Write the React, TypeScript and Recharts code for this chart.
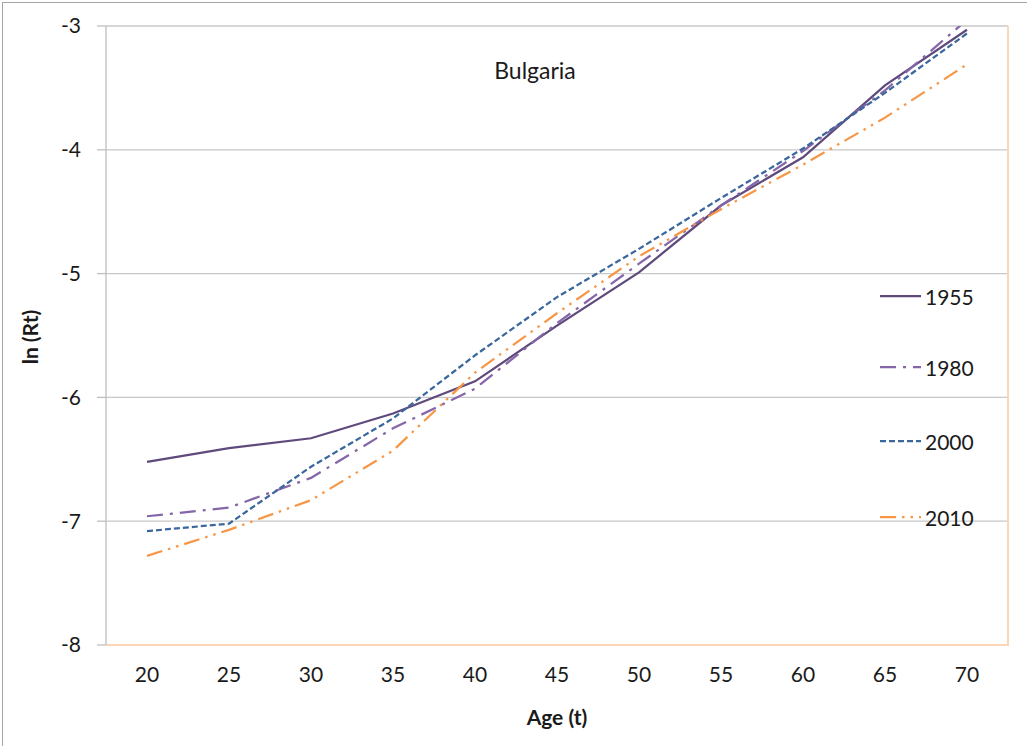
import React from "react";
import { LineChart, Line, XAxis, YAxis, CartesianGrid, ReferenceLine } from "recharts";

const ages = [20, 25, 30, 35, 40, 45, 50, 55, 60, 65, 70];
const y1955 = [-6.52, -6.41, -6.33, -6.13, -5.87, -5.42, -4.99, -4.45, -4.06, -3.48, -3.03];
const y1980 = [-6.96, -6.89, -6.65, -6.25, -5.93, -5.4, -4.92, -4.45, -4.01, -3.52, -2.95];
const y2000 = [-7.08, -7.02, -6.56, -6.17, -5.66, -5.19, -4.8, -4.39, -3.99, -3.54, -3.06];
const y2010 = [-7.28, -7.07, -6.83, -6.43, -5.8, -5.32, -4.86, -4.48, -4.12, -3.74, -3.31];
const yTicks = [-8, -7, -6, -5, -4, -3];

const series = [
    { key: "1955", color: "#5f4a7c", dash: undefined },
    { key: "1980", color: "#8566a8", dash: "16 7 3 7" },
    { key: "2000", color: "#3a679c", dash: "6 3" },
    { key: "2010", color: "#f79646", dash: "16 6 2.5 6 2.5 6" },
];

const data = ages.map((age, i) => ({
    age,
    "1955": y1955[i],
    "1980": y1980[i],
    "2000": y2000[i],
    "2010": y2010[i],
}));

const FONT = "Lato, 'Open Sans', sans-serif";

function LegendBox() {
    const tops = [296, 367, 441, 517];
    return (
        <div>
            {series.map((s, i) => (
                <div
                    key={s.key}
                    style={{
                        position: "absolute",
                        left: 880,
                        top: tops[i] - 14,
                        height: 28,
                        display: "flex",
                        alignItems: "center",
                        fontFamily: FONT,
                        fontSize: 21,
                        color: "#1a1a1a",
                    }}
                >
                    <svg width={41} height={10} style={{ marginRight: 4 }}>
                        <line x1={0} y1={5} x2={41} y2={5} stroke={s.color} strokeWidth={2.25} strokeDasharray={s.dash} />
                    </svg>
                    {s.key}
                </div>
            ))}
        </div>
    );
}

export default function App() {
    return (
        <div style={{ position: "absolute", left: 0, top: 0, width: 1027, height: 746, background: "#fff" }}>
            <div style={{ position: "absolute", left: 2, top: 2, width: 1030, height: 760, border: "1px solid #a6a6a6" }} />
            <LineChart
                width={1027}
                height={746}
                data={data}
                margin={{ top: 26, right: 19, left: 0, bottom: 41 }}
                style={{ position: "absolute", left: 0, top: 0 }}
            >
                <CartesianGrid vertical={false} stroke="#c8c8c8" strokeWidth={1.3} />
                <XAxis
                    dataKey="age"
                    padding={{ left: 41, right: 41 }}
                    tickLine={false}
                    axisLine={false}
                    tickSize={0}
                    tickMargin={22}
                    height={60}
                    tick={{ fontFamily: FONT, fontSize: 21, fill: "#1a1a1a" }}
                />
                <YAxis
                    type="number"
                    domain={[-8, -3]}
                    ticks={yTicks}
                    allowDataOverflow
                    width={106}
                    tickSize={9}
                    tickMargin={16}
                    stroke="#bfbfbf"
                    tickLine={{ stroke: "#bfbfbf", strokeWidth: 1.3 }}
                    axisLine={{ stroke: "#bfbfbf", strokeWidth: 1.3 }}
                    tick={{ fontFamily: FONT, fontSize: 21, fill: "#1a1a1a" }}
                />
                <ReferenceLine y={-8} stroke="#fcd5b4" strokeWidth={2} />
                {series.map((s) => (
                    <Line
                        key={s.key}
                        dataKey={s.key}
                        stroke={s.color}
                        strokeWidth={2.25}
                        strokeDasharray={s.dash}
                        dot={false}
                        activeDot={false}
                        isAnimationActive={false}
                    />
                ))}
            </LineChart>
            <div style={{ position: "absolute", left: 1007, top: 26, width: 2, height: 620, background: "#fcd5b4" }} />
            <LegendBox />
            <div style={{ position: "absolute", left: 535, top: 70, transform: "translate(-50%, -50%)", fontFamily: FONT, fontSize: 23, color: "#1a1a1a" }}>
                Bulgaria
            </div>
            <div style={{ position: "absolute", left: 557, top: 716, transform: "translate(-50%, -50%)", fontFamily: FONT, fontSize: 21, fontWeight: 700, color: "#1a1a1a" }}>
                Age (t)
            </div>
            <div style={{ position: "absolute", left: 29, top: 337, transform: "translate(-50%, -50%) rotate(-90deg)", fontFamily: FONT, fontSize: 21, fontWeight: 700, color: "#1a1a1a", whiteSpace: "nowrap" }}>
                ln (Rt)
            </div>
        </div>
    );
}
